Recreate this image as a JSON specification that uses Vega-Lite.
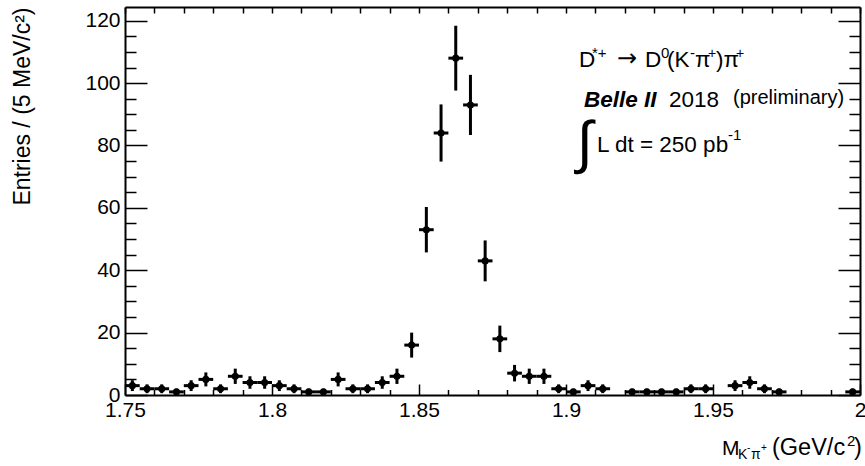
{
  "$schema": "https://vega.github.io/schema/vega-lite/v6.json",
  "width": 735,
  "height": 388,
  "autosize": "none",
  "padding": {"left": 125, "top": 7, "right": 5, "bottom": 71},
  "background": "white",
  "config": {
    "view": {"stroke": null},
    "font": "Liberation Sans",
    "text": {"font": "Liberation Sans", "color": "black", "align": "left", "baseline": "alphabetic"}
  },
  "datasets": {
    "hist": [
      {"m": 1.7525, "mlo": 1.750, "mhi": 1.755, "n": 3, "lo": 1.268, "hi": 4.732},
      {"m": 1.7575, "mlo": 1.755, "mhi": 1.760, "n": 2, "lo": 0.586, "hi": 3.414},
      {"m": 1.7625, "mlo": 1.760, "mhi": 1.765, "n": 2, "lo": 0.586, "hi": 3.414},
      {"m": 1.7675, "mlo": 1.765, "mhi": 1.770, "n": 1, "lo": 0, "hi": 2},
      {"m": 1.7725, "mlo": 1.770, "mhi": 1.775, "n": 3, "lo": 1.268, "hi": 4.732},
      {"m": 1.7775, "mlo": 1.775, "mhi": 1.780, "n": 5, "lo": 2.764, "hi": 7.236},
      {"m": 1.7825, "mlo": 1.780, "mhi": 1.785, "n": 2, "lo": 0.586, "hi": 3.414},
      {"m": 1.7875, "mlo": 1.785, "mhi": 1.790, "n": 6, "lo": 3.551, "hi": 8.449},
      {"m": 1.7925, "mlo": 1.790, "mhi": 1.795, "n": 4, "lo": 2, "hi": 6},
      {"m": 1.7975, "mlo": 1.795, "mhi": 1.800, "n": 4, "lo": 2, "hi": 6},
      {"m": 1.8025, "mlo": 1.800, "mhi": 1.805, "n": 3, "lo": 1.268, "hi": 4.732},
      {"m": 1.8075, "mlo": 1.805, "mhi": 1.810, "n": 2, "lo": 0.586, "hi": 3.414},
      {"m": 1.8125, "mlo": 1.810, "mhi": 1.815, "n": 1, "lo": 0, "hi": 2},
      {"m": 1.8175, "mlo": 1.815, "mhi": 1.820, "n": 1, "lo": 0, "hi": 2},
      {"m": 1.8225, "mlo": 1.820, "mhi": 1.825, "n": 5, "lo": 2.764, "hi": 7.236},
      {"m": 1.8275, "mlo": 1.825, "mhi": 1.830, "n": 2, "lo": 0.586, "hi": 3.414},
      {"m": 1.8325, "mlo": 1.830, "mhi": 1.835, "n": 2, "lo": 0.586, "hi": 3.414},
      {"m": 1.8375, "mlo": 1.835, "mhi": 1.840, "n": 4, "lo": 2, "hi": 6},
      {"m": 1.8425, "mlo": 1.840, "mhi": 1.845, "n": 6, "lo": 3.551, "hi": 8.449},
      {"m": 1.8475, "mlo": 1.845, "mhi": 1.850, "n": 16, "lo": 12, "hi": 20},
      {"m": 1.8525, "mlo": 1.850, "mhi": 1.855, "n": 53, "lo": 45.72, "hi": 60.28},
      {"m": 1.8575, "mlo": 1.855, "mhi": 1.860, "n": 84, "lo": 74.835, "hi": 93.165},
      {"m": 1.8625, "mlo": 1.860, "mhi": 1.865, "n": 108, "lo": 97.608, "hi": 118.392},
      {"m": 1.8675, "mlo": 1.865, "mhi": 1.870, "n": 93, "lo": 83.356, "hi": 102.644},
      {"m": 1.8725, "mlo": 1.870, "mhi": 1.875, "n": 43, "lo": 36.443, "hi": 49.557},
      {"m": 1.8775, "mlo": 1.875, "mhi": 1.880, "n": 18, "lo": 13.757, "hi": 22.243},
      {"m": 1.8825, "mlo": 1.880, "mhi": 1.885, "n": 7, "lo": 4.354, "hi": 9.646},
      {"m": 1.8875, "mlo": 1.885, "mhi": 1.890, "n": 6, "lo": 3.551, "hi": 8.449},
      {"m": 1.8925, "mlo": 1.890, "mhi": 1.895, "n": 6, "lo": 3.551, "hi": 8.449},
      {"m": 1.8975, "mlo": 1.895, "mhi": 1.900, "n": 2, "lo": 0.586, "hi": 3.414},
      {"m": 1.9025, "mlo": 1.900, "mhi": 1.905, "n": 1, "lo": 0, "hi": 2},
      {"m": 1.9075, "mlo": 1.905, "mhi": 1.910, "n": 3, "lo": 1.268, "hi": 4.732},
      {"m": 1.9125, "mlo": 1.910, "mhi": 1.915, "n": 2, "lo": 0.586, "hi": 3.414},
      {"m": 1.9225, "mlo": 1.920, "mhi": 1.925, "n": 1, "lo": 0, "hi": 2},
      {"m": 1.9275, "mlo": 1.925, "mhi": 1.930, "n": 1, "lo": 0, "hi": 2},
      {"m": 1.9325, "mlo": 1.930, "mhi": 1.935, "n": 1, "lo": 0, "hi": 2},
      {"m": 1.9375, "mlo": 1.935, "mhi": 1.940, "n": 1, "lo": 0, "hi": 2},
      {"m": 1.9425, "mlo": 1.940, "mhi": 1.945, "n": 2, "lo": 0.586, "hi": 3.414},
      {"m": 1.9475, "mlo": 1.945, "mhi": 1.950, "n": 2, "lo": 0.586, "hi": 3.414},
      {"m": 1.9575, "mlo": 1.955, "mhi": 1.960, "n": 3, "lo": 1.268, "hi": 4.732},
      {"m": 1.9625, "mlo": 1.960, "mhi": 1.965, "n": 4, "lo": 2, "hi": 6},
      {"m": 1.9675, "mlo": 1.965, "mhi": 1.970, "n": 2, "lo": 0.586, "hi": 3.414},
      {"m": 1.9725, "mlo": 1.970, "mhi": 1.975, "n": 1, "lo": 0, "hi": 2},
      {"m": 1.9975, "mlo": 1.995, "mhi": 2.000, "n": 1, "lo": 0, "hi": 2}
    ],
    "one": [{}]
  },
  "data": {"name": "hist"},
  "resolve": {"axis": {"x": "independent", "y": "independent"}},
  "layer": [
    {
      "mark": {"type": "rule", "color": "black", "strokeWidth": 3},
      "encoding": {
        "x": {
          "field": "m", "type": "quantitative",
          "scale": {"domain": [1.75, 2.0], "nice": false, "zero": false},
          "axis": {
            "orient": "bottom", "title": null, "grid": false,
            "values": [1.75,1.76,1.77,1.78,1.79,1.8,1.81,1.82,1.83,1.84,1.85,1.86,1.87,1.88,1.89,1.9,1.91,1.92,1.93,1.94,1.95,1.96,1.97,1.98,1.99,2.0],
            "labelExpr": "abs(datum.value*20-round(datum.value*20))<0.001 ? format(datum.value, '~g') : ''",
            "tickSize": {"condition": {"test": "abs(datum.value*20-round(datum.value*20))<0.001", "value": -11}, "value": -5.5},
            "tickColor": "black", "tickWidth": 1.5,
            "domainColor": "black", "domainWidth": 2,
            "labelFont": "Liberation Sans", "labelFontSize": 21, "labelColor": "black",
            "labelPadding": 15, "labelOverlap": false, "labelFlush": false
          }
        },
        "y": {
          "field": "lo", "type": "quantitative",
          "scale": {"domain": [0, 124.4], "nice": false, "zero": false},
          "axis": {
            "orient": "left",
            "title": "Entries / (5 MeV/c²)",
            "titleFont": "Liberation Sans", "titleFontSize": 23, "titleFontWeight": "normal", "titleColor": "black",
            "titleAnchor": "end", "titlePadding": 50,
            "grid": false,
            "values": [0,5,10,15,20,25,30,35,40,45,50,55,60,65,70,75,80,85,90,95,100,105,110,115,120],
            "labelExpr": "datum.value % 20 == 0 ? format(datum.value, 'd') : ''",
            "tickSize": {"condition": {"test": "datum.value % 20 == 0", "value": -22}, "value": -11},
            "tickColor": "black", "tickWidth": 1.5,
            "domainColor": "black", "domainWidth": 2,
            "labelFont": "Liberation Sans", "labelFontSize": 21, "labelColor": "black",
            "labelPadding": 27, "labelOverlap": false, "labelFlush": false
          }
        },
        "y2": {"field": "hi"}
      }
    },
    {
      "mark": {"type": "rule", "color": "black", "strokeWidth": 3},
      "encoding": {
        "x": {
          "field": "mlo", "type": "quantitative",
          "axis": {
            "orient": "top", "title": null, "grid": false, "labels": false,
            "values": [1.75,1.76,1.77,1.78,1.79,1.8,1.81,1.82,1.83,1.84,1.85,1.86,1.87,1.88,1.89,1.9,1.91,1.92,1.93,1.94,1.95,1.96,1.97,1.98,1.99,2.0],
            "tickSize": -6, "tickColor": "black", "tickWidth": 1.5,
            "domainColor": "black", "domainWidth": 2
          }
        },
        "x2": {"field": "mhi"},
        "y": {
          "field": "n", "type": "quantitative",
          "axis": {
            "orient": "right", "title": null, "grid": false, "labels": false,
            "values": [0,5,10,15,20,25,30,35,40,45,50,55,60,65,70,75,80,85,90,95,100,105,110,115,120],
            "tickSize": {"condition": {"test": "datum.value % 20 == 0", "value": -22}, "value": -11},
            "tickColor": "black", "tickWidth": 1.5,
            "domainColor": "black", "domainWidth": 2
          }
        }
      }
    },
    {
      "mark": {"type": "point", "filled": true, "shape": "circle", "color": "black", "size": 50, "opacity": 1},
      "encoding": {
        "x": {"field": "m", "type": "quantitative", "axis": null},
        "y": {"field": "n", "type": "quantitative", "axis": null}
      }
    },
    {"data": {"name": "one"}, "mark": {"type": "text", "text": "D", "fontSize": 22.5}, "encoding": {"x": {"datum": 1.90442, "type": "quantitative", "axis": null}, "y": {"datum": 105.16, "type": "quantitative", "axis": null}}},
    {"data": {"name": "one"}, "mark": {"type": "text", "text": "*+", "fontSize": 15}, "encoding": {"x": {"datum": 1.90884, "type": "quantitative", "axis": null}, "y": {"datum": 107.9, "type": "quantitative", "axis": null}}},
    {"data": {"name": "one"}, "mark": {"type": "text", "text": "→", "fontSize": 24, "font": "DejaVu Sans"}, "encoding": {"x": {"datum": 1.91735, "type": "quantitative", "axis": null}, "y": {"datum": 105.5, "type": "quantitative", "axis": null}}},
    {"data": {"name": "one"}, "mark": {"type": "text", "text": "D", "fontSize": 22.5}, "encoding": {"x": {"datum": 1.92687, "type": "quantitative", "axis": null}, "y": {"datum": 105.16, "type": "quantitative", "axis": null}}},
    {"data": {"name": "one"}, "mark": {"type": "text", "text": "0", "fontSize": 15}, "encoding": {"x": {"datum": 1.93231, "type": "quantitative", "axis": null}, "y": {"datum": 107.9, "type": "quantitative", "axis": null}}},
    {"data": {"name": "one"}, "mark": {"type": "text", "text": "(K", "fontSize": 22.5}, "encoding": {"x": {"datum": 1.93435, "type": "quantitative", "axis": null}, "y": {"datum": 105.16, "type": "quantitative", "axis": null}}},
    {"data": {"name": "one"}, "mark": {"type": "text", "text": "-", "fontSize": 15}, "encoding": {"x": {"datum": 1.94218, "type": "quantitative", "axis": null}, "y": {"datum": 107.9, "type": "quantitative", "axis": null}}},
    {"data": {"name": "one"}, "mark": {"type": "text", "text": "π", "fontSize": 22.5}, "encoding": {"x": {"datum": 1.94388, "type": "quantitative", "axis": null}, "y": {"datum": 105.16, "type": "quantitative", "axis": null}}},
    {"data": {"name": "one"}, "mark": {"type": "text", "text": "+", "fontSize": 14}, "encoding": {"x": {"datum": 1.9483, "type": "quantitative", "axis": null}, "y": {"datum": 107.9, "type": "quantitative", "axis": null}}},
    {"data": {"name": "one"}, "mark": {"type": "text", "text": ")π", "fontSize": 22.5}, "encoding": {"x": {"datum": 1.95102, "type": "quantitative", "axis": null}, "y": {"datum": 105.16, "type": "quantitative", "axis": null}}},
    {"data": {"name": "one"}, "mark": {"type": "text", "text": "+", "fontSize": 14}, "encoding": {"x": {"datum": 1.95782, "type": "quantitative", "axis": null}, "y": {"datum": 107.9, "type": "quantitative", "axis": null}}},
    {"data": {"name": "one"}, "mark": {"type": "text", "text": "Belle II", "fontSize": 22.5, "fontStyle": "italic", "fontWeight": "bold"}, "encoding": {"x": {"datum": 1.90612, "type": "quantitative", "axis": null}, "y": {"datum": 92.34, "type": "quantitative", "axis": null}}},
    {"data": {"name": "one"}, "mark": {"type": "text", "text": "2018", "fontSize": 22.5}, "encoding": {"x": {"datum": 1.93503, "type": "quantitative", "axis": null}, "y": {"datum": 92.34, "type": "quantitative", "axis": null}}},
    {"data": {"name": "one"}, "mark": {"type": "text", "text": "(preliminary)", "fontSize": 20}, "encoding": {"x": {"datum": 1.9568, "type": "quantitative", "axis": null}, "y": {"datum": 93.3, "type": "quantitative", "axis": null}}},
    {"data": {"name": "one"}, "mark": {"type": "text", "text": "∫", "fontSize": 58}, "encoding": {"x": {"datum": 1.90374, "type": "quantitative", "axis": null}, "y": {"datum": 74.7, "type": "quantitative", "axis": null}}},
    {"data": {"name": "one"}, "mark": {"type": "text", "text": "L dt = 250 pb", "fontSize": 22.5}, "encoding": {"x": {"datum": 1.91054, "type": "quantitative", "axis": null}, "y": {"datum": 77.9, "type": "quantitative", "axis": null}}},
    {"data": {"name": "one"}, "mark": {"type": "text", "text": "-1", "fontSize": 15}, "encoding": {"x": {"datum": 1.9551, "type": "quantitative", "axis": null}, "y": {"datum": 81.76, "type": "quantitative", "axis": null}}},
    {"data": {"name": "one"}, "mark": {"type": "text", "text": "M", "fontSize": 21}, "encoding": {"x": {"datum": 1.95306, "type": "quantitative", "axis": null}, "y": {"datum": -19.24, "type": "quantitative", "axis": null}}},
    {"data": {"name": "one"}, "mark": {"type": "text", "text": "K", "fontSize": 14}, "encoding": {"x": {"datum": 1.9585, "type": "quantitative", "axis": null}, "y": {"datum": -20.5, "type": "quantitative", "axis": null}}},
    {"data": {"name": "one"}, "mark": {"type": "text", "text": "-", "fontSize": 10}, "encoding": {"x": {"datum": 1.96156, "type": "quantitative", "axis": null}, "y": {"datum": -18.0, "type": "quantitative", "axis": null}}},
    {"data": {"name": "one"}, "mark": {"type": "text", "text": "π", "fontSize": 14}, "encoding": {"x": {"datum": 1.96293, "type": "quantitative", "axis": null}, "y": {"datum": -20.5, "type": "quantitative", "axis": null}}},
    {"data": {"name": "one"}, "mark": {"type": "text", "text": "+", "fontSize": 10}, "encoding": {"x": {"datum": 1.96633, "type": "quantitative", "axis": null}, "y": {"datum": -18.0, "type": "quantitative", "axis": null}}},
    {"data": {"name": "one"}, "mark": {"type": "text", "text": "(GeV/c", "fontSize": 23.5}, "encoding": {"x": {"datum": 1.97007, "type": "quantitative", "axis": null}, "y": {"datum": -19.24, "type": "quantitative", "axis": null}}},
    {"data": {"name": "one"}, "mark": {"type": "text", "text": "2", "fontSize": 15}, "encoding": {"x": {"datum": 1.99558, "type": "quantitative", "axis": null}, "y": {"datum": -16.35, "type": "quantitative", "axis": null}}},
    {"data": {"name": "one"}, "mark": {"type": "text", "text": ")", "fontSize": 23.5}, "encoding": {"x": {"datum": 1.99796, "type": "quantitative", "axis": null}, "y": {"datum": -19.24, "type": "quantitative", "axis": null}}}
  ]
}
